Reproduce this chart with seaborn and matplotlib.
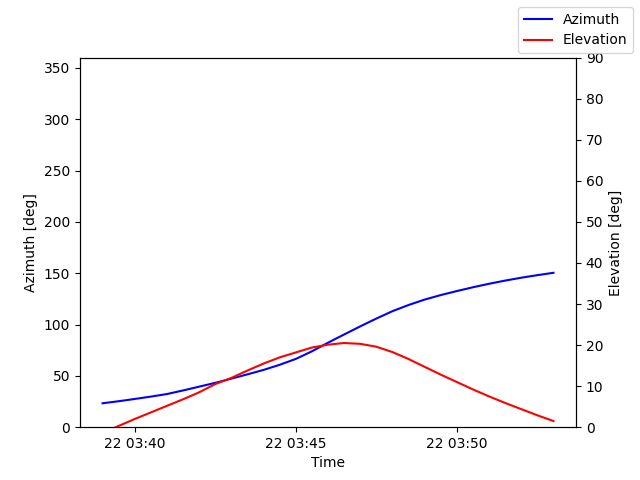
import pandas as pd
import matplotlib
matplotlib.use('Agg')
import matplotlib.pyplot as plt
import seaborn as sns

# pass times, one sample every 30 s from 03:39 to 03:53
start = pd.Timestamp('2023-03-22 03:39:00')
times = pd.date_range(start, periods=29, freq='30s')

azimuth = [23.3, 25.3, 27.5, 29.8, 32.3, 35.8, 39.5, 43.2, 47.3, 51.5,
           55.8, 60.8, 66.5, 73.9, 82.3, 90.3, 98.2, 105.8, 113.0, 119.0,
           124.3, 128.7, 132.6, 136.3, 139.7, 142.8, 145.6, 148.1, 150.4]
elevation = [-1.4, 0.3, 2.0, 3.6, 5.2, 6.8, 8.5, 10.5, 12.0, 13.8,
             15.5, 17.0, 18.2, 19.4, 20.1, 20.5, 20.3, 19.6, 18.3, 16.6,
             14.7, 12.8, 11.0, 9.2, 7.5, 5.9, 4.4, 2.9, 1.5]

df = pd.DataFrame({'time': times, 'az': azimuth, 'el': elevation})

fig, ax1 = plt.subplots(figsize=(6.4, 4.8), dpi=100)
ax2 = ax1.twinx()

sns.lineplot(data=df, x='time', y='az', ax=ax1, color='b', label='Azimuth', legend=False)
sns.lineplot(data=df, x='time', y='el', ax=ax2, color='r', label='Elevation', legend=False)

ax1.set_ylim(0, 360)
ax2.set_ylim(0, 90)
ax2.set_yticks(range(0, 91, 10))
ax1.set_xlabel('Time')
ax1.set_ylabel('Azimuth [deg]')
ax2.set_ylabel('Elevation [deg]')

fig.legend(handles=ax1.get_lines() + ax2.get_lines(), labels=['Azimuth', 'Elevation'])

plt.savefig('out.png', dpi=100)
